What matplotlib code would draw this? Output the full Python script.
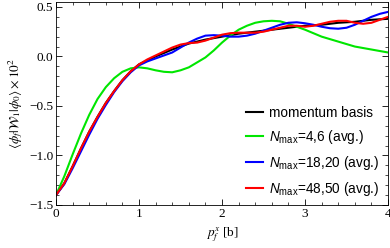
import numpy as np
import matplotlib
matplotlib.use('Agg')
import matplotlib.pyplot as plt
from matplotlib.ticker import MultipleLocator
from matplotlib.font_manager import FontProperties

# x grid shared by all curves
px = [round(0.1 * i, 1) for i in range(41)]

momentum = [-1.40, -1.28, -1.11, -0.93, -0.76, -0.61, -0.47, -0.35, -0.24, -0.15,
            -0.08, -0.04, 0.00, 0.035, 0.07, 0.10, 0.13, 0.15, 0.17, 0.185,
            0.20, 0.215, 0.23, 0.24, 0.25, 0.26, 0.27, 0.28, 0.29, 0.30,
            0.31, 0.315, 0.32, 0.33, 0.34, 0.345, 0.35, 0.36, 0.37, 0.375, 0.38]

nmax_4_6 = [-1.40, -1.21, -0.99, -0.78, -0.59, -0.43, -0.31, -0.22, -0.155, -0.12,
            -0.11, -0.12, -0.14, -0.155, -0.16, -0.14, -0.11, -0.06, -0.01, 0.06,
            0.14, 0.21, 0.27, 0.31, 0.34, 0.355, 0.36, 0.355, 0.33, 0.30,
            0.27, 0.235, 0.20, 0.175, 0.15, 0.125, 0.10, 0.085, 0.07, 0.055, 0.04]

nmax_18_20 = [-1.40, -1.29, -1.13, -0.96, -0.79, -0.63, -0.49, -0.36, -0.25, -0.16,
              -0.09, -0.05, -0.02, 0.01, 0.04, 0.09, 0.14, 0.18, 0.21, 0.215,
              0.21, 0.20, 0.20, 0.21, 0.23, 0.26, 0.29, 0.32, 0.34, 0.345,
              0.335, 0.32, 0.30, 0.285, 0.28, 0.29, 0.32, 0.36, 0.40, 0.43, 0.45]

nmax_48_50 = [-1.40, -1.28, -1.11, -0.93, -0.76, -0.61, -0.47, -0.35, -0.24, -0.15,
              -0.08, -0.03, 0.01, 0.05, 0.09, 0.12, 0.135, 0.14, 0.16, 0.19,
              0.22, 0.235, 0.24, 0.24, 0.24, 0.25, 0.27, 0.29, 0.31, 0.31,
              0.30, 0.31, 0.33, 0.35, 0.36, 0.36, 0.34, 0.33, 0.34, 0.37, 0.40]

labels = ['momentum basis',
          r'$N_{\rm max}$=4,6 (avg.)',
          r'$N_{\rm max}$=18,20 (avg.)',
          r'$N_{\rm max}$=48,50 (avg.)']
colors = ['black', '#00e600', '#0000ff', '#ff0000']

plt.rcParams['font.family'] = ['Liberation Serif', 'DejaVu Serif']
plt.rcParams['mathtext.fontset'] = 'custom'
plt.rcParams['mathtext.rm'] = 'Liberation Sans'
plt.rcParams['mathtext.it'] = 'Liberation Sans:italic'

fig = plt.figure(figsize=(3.9, 2.48), dpi=100)
ax = fig.add_axes([0.1436, 0.1734, 0.8514, 0.8186])

for ys, c, lab in zip([momentum, nmax_4_6, nmax_18_20, nmax_48_50], colors, labels):
    ax.plot(px, ys, color=c, lw=1.5, label=lab)

ax.set_xlim(0, 4)
ax.set_ylim(-1.5, 0.55)
ax.xaxis.set_major_locator(MultipleLocator(1))
ax.xaxis.set_minor_locator(MultipleLocator(0.2))
ax.yaxis.set_major_locator(MultipleLocator(0.5))
ax.yaxis.set_minor_locator(MultipleLocator(0.1))
ax.tick_params(which='both', direction='in', top=True, right=True, labelsize=9.5, pad=2)
ax.tick_params(which='major', length=4, width=0.6)
ax.tick_params(which='minor', length=2, width=0.5)
ax.set_yticks([-1.5, -1.0, -0.5, 0.0, 0.5])
ax.set_yticklabels(['\u22121.5', '\u22121.0', '\u22120.5', '0.0', '0.5'])
ax.set_xticks([0, 1, 2, 3, 4])
ax.set_xticklabels(['0', '1', '2', '3', '4'])
for s in ax.spines.values():
    s.set_linewidth(0.6)

ax.set_xlabel(r'$p_f^x$ [b]', fontsize=9.5, math_fontfamily='stix', labelpad=4)
ax.set_ylabel(r'$\langle\phi_f|\mathcal{W}_1|\phi_0\rangle\times10^2$', fontsize=9.5,
              math_fontfamily='stix', labelpad=3)

leg = ax.legend(loc='lower right', frameon=False, handlelength=1.3, handletextpad=0.45,
                labelspacing=0.6, prop=FontProperties(family='Liberation Sans', size=9.8),
                bbox_to_anchor=(0.995, 0.0), borderaxespad=0.1)

fig.savefig('out.png', dpi=100)
